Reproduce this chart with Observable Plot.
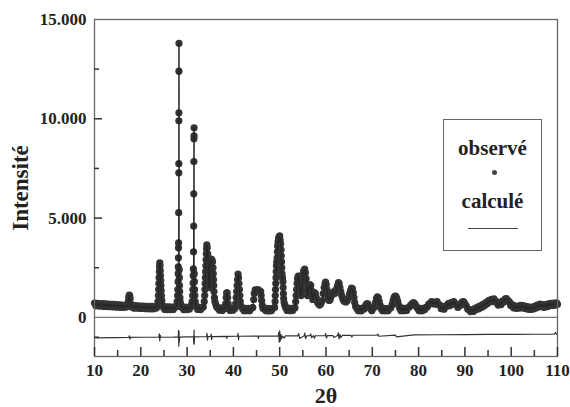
<!DOCTYPE html>
<html><head><meta charset="utf-8">
<script src="https://cdn.jsdelivr.net/npm/d3@7"></script>
<script src="https://cdn.jsdelivr.net/npm/@observablehq/plot@0.6"></script>
<style>
body{margin:0;background:#fff;}
#chart{position:relative;width:570px;height:407px;}
#legend{position:absolute;left:443px;top:119px;width:97px;height:130px;border:1.3px solid #666;background:#fff;font-family:"Liberation Serif",serif;font-weight:bold;font-size:21px;color:#222;}
#legend .lt{position:absolute;left:0;width:97px;text-align:center;line-height:24px;}
#legend .dot{position:absolute;left:48px;top:50px;width:5px;height:5px;border-radius:50%;background:#444;}
#legend .ln{position:absolute;left:24px;top:108px;width:50px;height:0;border-top:1.2px solid #444;}
</style></head><body><div id="chart"></div>
<script>
// 2θ (deg), observed intensity
const observedPoints = [
[10.0,720],[10.3,580],[10.6,710],[10.9,570],[11.2,700],[11.5,560],[11.8,690],[12.1,550],[12.4,680],[12.7,545],[13.0,670],[13.3,535],[13.6,660],[13.9,530],[14.2,650],[14.5,520],[14.8,640],[15.1,515],[15.4,630],[15.7,505],[16.0,620],[16.3,500],[16.6,610],[16.9,520],
[17.2,600],[17.3,800],[17.4,1000],[17.5,1120],[17.6,1100],[17.7,950],[17.8,700],[17.9,540],
[18.2,600],[18.5,470],[18.8,590],[19.1,460],[19.4,580],[19.7,455],[20.0,570],[20.3,450],[20.6,565],[20.9,440],[21.2,560],[21.5,435],[21.8,555],[22.1,430],[22.4,550],[22.7,425],[23.0,545],[23.3,460],
[23.5,540],[23.7,800],[23.8,1100],[23.85,1400],[23.9,1700],[23.95,2000],[24.0,2300],[24.05,2550],[24.1,2740],[24.15,2600],[24.2,2350],[24.25,2100],[24.3,1850],[24.35,1600],[24.4,1350],[24.45,1100],[24.55,850],[24.7,600],[24.9,500],
[25.2,400],[25.5,530],[25.8,395],[26.1,525],[26.4,390],[26.7,520],[27.0,400],[27.3,530],[27.5,520],
[27.7,550],[27.85,800],[27.95,1100],[28.0,1400],[28.05,1800],[28.08,2200],[28.1,2540],[28.12,3000],[28.14,3500],[28.16,3750],[28.18,5270],[28.2,7280],[28.21,7740],[28.22,9900],[28.23,10300],[28.24,12400],[28.25,13800],
[28.3,2400],[28.33,2000],[28.36,1600],[28.4,1300],[28.45,1000],[28.5,800],[28.6,650],[28.75,520],
[29.0,500],[29.3,390],[29.6,520],[29.9,390],[30.2,510],[30.5,420],[30.8,560],
[31.0,650],[31.1,800],[31.2,1100],[31.25,1400],[31.3,1730],[31.33,2100],[31.36,2440],[31.39,3300],[31.42,4600],[31.44,6220],[31.46,7850],[31.48,9000],[31.5,9140],[31.51,9550],
[31.54,2200],[31.58,1800],[31.62,1400],[31.68,1100],[31.75,800],[31.85,600],
[32.0,520],[32.3,400],[32.6,510],[32.9,390],[33.2,480],
[33.5,520],[33.7,800],[33.8,1100],[33.85,1400],[33.9,1700],[33.95,2000],[34.0,2300],[34.05,2600],[34.1,2900],[34.15,3200],[34.2,3450],[34.25,3650],[34.35,3500],[34.45,3200],[34.55,2900],[34.6,2600],[34.65,2300],[34.7,2000],[34.75,1700],[34.8,1500],[34.85,1800],[34.9,2100],[34.95,2400],[35.0,2650],[35.1,2850],[35.2,2940],[35.35,2900],[35.5,2800],[35.6,2500],[35.65,2200],[35.7,1900],[35.75,1600],[35.8,1300],[35.9,1000],[36.0,800],[36.2,650],[36.4,520],[36.7,450],
[37.0,360],[37.3,480],[37.6,350],[37.9,470],
[38.2,450],[38.35,700],[38.45,1000],[38.55,1230],[38.65,1230],[38.75,1000],[38.85,700],[39.0,450],
[39.3,350],[39.6,470],[39.9,360],
[40.3,450],[40.5,700],[40.6,1000],[40.7,1300],[40.8,1600],[40.9,1900],[41.0,2180],[41.1,2000],[41.2,1700],[41.3,1400],[41.4,1100],[41.5,800],[41.7,550],[42.0,440],
[42.3,340],[42.6,460],[42.9,335],[43.2,455],[43.5,330],[43.8,450],
[44.2,500],[44.4,900],[44.5,1200],[44.7,1380],[45.0,1350],[45.3,1400],[45.6,1350],[45.9,1300],[46.0,1100],[46.1,850],[46.25,600],[46.4,450],[46.7,430],
[47.0,330],[47.3,450],[47.6,325],[47.9,445],[48.2,330],[48.5,450],
[48.9,500],[49.0,800],[49.05,1100],[49.1,1400],[49.15,1700],[49.2,2000],[49.25,2300],[49.3,2600],[49.35,2800],[49.45,3000],[49.5,3300],[49.55,3600],[49.65,3800],[49.75,3950],[49.85,4050],[50.0,4100],[50.1,3900],[50.2,3700],[50.3,3400],[50.35,3100],[50.4,2800],[50.45,2500],[50.5,2200],[50.6,2000],[50.7,1800],[50.75,1500],[50.8,1200],[50.85,950],[50.95,750],[51.1,600],[51.3,480],
[51.6,350],[51.9,470],[52.2,340],[52.5,460],[52.8,345],[53.1,470],
[53.3,480],[53.45,800],[53.55,1100],[53.65,1400],[53.75,1700],[53.85,1950],[54.0,2080],[54.15,1900],[54.3,1600],[54.45,1300],[54.6,1100],[54.75,1350],[54.85,1650],[54.95,1950],[55.05,2200],[55.2,2350],[55.4,2430],[55.55,2250],[55.7,1950],[55.8,1650],[55.9,1350],[56.0,1100],[56.15,1300],[56.3,1500],[56.5,1650],[56.7,1600],[56.85,1350],[57.0,1100],[57.15,900],[57.3,1050],[57.5,1250],[57.7,1200],[57.9,1000],[58.1,800],[58.3,700],[58.6,620],[58.9,680],
[59.2,850],[59.4,1200],[59.6,1500],[59.8,1700],[59.9,1780],[60.05,1650],[60.2,1400],[60.35,1100],[60.5,950],[60.7,850],[60.9,900],[61.1,1050],[61.3,1150],[61.5,1250],[61.7,1300],[61.9,1200],[62.1,1250],[62.3,1450],[62.5,1600],[62.7,1750],[62.85,1700],[63.0,1500],[63.2,1300],[63.4,1100],[63.6,950],[63.8,850],[64.0,800],[64.3,780],[64.6,850],[64.9,1000],[65.1,1200],[65.3,1350],[65.5,1480],[65.7,1450],[65.9,1250],[66.05,1000],[66.2,750],[66.4,550],[66.7,430],
[67.0,330],[67.3,460],[67.6,320],[67.9,450],[68.2,420],[68.45,550],[68.7,650],[68.9,690],[69.1,650],[69.35,520],[69.6,430],[69.9,330],[70.2,460],[70.5,520],[70.7,750],[70.9,950],[71.1,1040],[71.3,980],[71.5,800],[71.7,600],[71.9,450],
[72.2,330],[72.5,450],[72.8,320],[73.1,440],[73.4,330],[73.7,460],[74.0,480],[74.3,650],[74.5,850],[74.7,1000],[74.9,1070],[75.1,1060],[75.3,950],[75.5,800],[75.7,600],[75.9,470],
[76.2,340],[76.5,470],[76.8,335],[77.1,460],[77.4,350],[77.7,480],[78.0,520],[78.3,620],[78.6,700],[78.9,740],[79.2,680],[79.5,550],[79.8,450],
[80.1,330],[80.4,460],[80.7,320],[81.0,450],[81.3,380],[81.6,500],[81.9,540],[82.2,670],[82.5,710],[82.8,800],[83.1,680],[83.4,770],[83.7,670],[84.0,790],[84.3,630],[84.6,620],[84.9,440],[85.2,540],[85.5,410],[85.8,570],[86.1,560],[86.4,700],[86.7,580],[87.0,740],[87.3,680],[87.6,800],[87.9,660],[88.2,640],[88.5,500],[88.8,670],[89.1,620],[89.4,770],[89.7,790],[90.0,700],[90.3,580],[90.6,420],[90.9,390],[91.2,290],[91.5,380],[91.8,300],[92.1,440],[92.4,380],[92.7,520],[93.0,430],[93.3,580],[93.6,500],[93.9,660],[94.2,580],[94.5,740],[94.8,680],[95.1,850],[95.4,780],[95.7,910],[96.0,820],[96.3,930],[96.6,780],[96.9,780],[97.2,620],[97.5,720],[97.8,640],[98.1,820],[98.4,780],[98.7,930],[99.0,940],[99.3,840],[99.6,790],[99.9,600],[100.2,640],[100.5,480],[100.8,580],[101.1,450],[101.4,560],[101.7,460],[102.0,600],[102.3,490],[102.6,590],[102.9,450],[103.2,560],[103.5,420],[103.8,530],[104.1,400],[104.4,510],[104.7,420],[105.0,560],[105.3,470],[105.6,620],[105.9,520],[106.2,670],[106.5,540],[106.8,640],[107.1,500],[107.4,630],[107.7,540],[108.0,680],[108.3,580],[108.6,710],[108.9,600],[109.2,720],[109.5,620],[109.8,730],[110.0,660]
];
// 2θ (deg), observed − calculated, offset below zero
const differencePoints = [
[10,-1030],[14,-1020],[17.4,-1010],[17.55,-930],[17.65,-1090],[17.8,-1005],[20,-1000],[23.9,-990],[24.0,-830],[24.1,-1180],[24.2,-900],[24.3,-1000],[27,-990],[28.1,-980],[28.15,-650],[28.2,-1450],[28.25,-700],[28.3,-1250],[28.4,-990],[30,-980],[31.4,-980],[31.45,-1350],[31.5,-640],[31.55,-1320],[31.6,-980],[33,-975],[34.2,-970],[34.3,-800],[34.4,-1150],[34.5,-970],[35.1,-960],[35.2,-840],[35.3,-1120],[35.4,-965],[38.5,-960],[38.6,-1060],[38.7,-955],[40.9,-950],[41.0,-800],[41.1,-1130],[41.2,-950],[45.3,-945],[45.4,-1060],[45.5,-945],[49.7,-940],[49.8,-760],[49.9,-1250],[50.0,-680],[50.1,-1200],[50.25,-860],[50.4,-1080],[50.6,-940],[51.0,-1040],[51.2,-935],[53.9,-935],[54.1,-820],[54.3,-1060],[55.3,-930],[55.4,-790],[55.6,-1070],[55.8,-930],[56.5,-925],[56.7,-840],[56.9,-1020],[57.3,-920],[57.5,-1050],[57.7,-925],[59.8,-920],[59.9,-820],[60.1,-1040],[60.3,-920],[61.5,-915],[61.7,-1010],[62.5,-910],[62.65,-780],[62.8,-1080],[63.0,-860],[63.2,-1020],[63.5,-910],[65.4,-905],[65.6,-990],[65.8,-900],[71.0,-895],[71.2,-840],[71.4,-950],[75.0,-890],[75.2,-980],[79,-880],[84,-875],[90,-870],[95,-860],[98,-860],[101,-855],[105,-850],[109.3,-840],[109.6,-760],[109.8,-860],[110,-840]
];
const xMajorTicks = [10,20,30,40,50,60,70,80,90,100,110];
const xMinorTicks = [15,25,35,45,55,65,75,85,95,105];
const yLabelTicks = [0,5000,10000,15000];
const yLabelTexts = ["0","5.000","10.000","15.000"];
const yMajorTicks = [5000,10000];
const yMinorTicks = [-1000,2500,7500,12500];
const xTitle = "2θ";
const yTitle = "Intensité";
const legendLabels = ["observé","calculé"];

const W = 570, H = 407, mL = 94, mR = 13, mT = 19, mB = 51;
const frameW = W - mL - mR, frameH = H - mT - mB;
const xDomain = [10, 110], yDomain = [-1970, 15000];
const obs = observedPoints.map(([t, v]) => ({t, v}));
const diff = differencePoints.map(([t, v]) => ({t, v}));

// inward ticks: length given in pixels, converted to data units of each scale
const pxY = (yDomain[1] - yDomain[0]) / frameH;
const pxX = (xDomain[1] - xDomain[0]) / frameW;
const tickX = (ticks, len) => Plot.ruleX(ticks, {x: d => d, y1: yDomain[0], y2: yDomain[0] + len * pxY, stroke: "#333", strokeWidth: 1.5});
const tickY = (ticks, len) => Plot.ruleY(ticks, {y: d => d, x1: xDomain[0], x2: xDomain[0] + len * pxX, stroke: "#333", strokeWidth: 1.5});

const chart = Plot.plot({
  width: W, height: H,
  marginLeft: mL, marginRight: mR, marginTop: mT, marginBottom: mB,
  style: {fontFamily: "'Liberation Serif', serif", fontWeight: "bold", fontSize: "17px", color: "#222", background: "#fff"},
  x: {domain: xDomain},
  y: {domain: yDomain},
  marks: [
    Plot.ruleY([0], {stroke: "#777", strokeWidth: 1.3}),
    Plot.line(diff, {x: "t", y: "v", stroke: "#333", strokeWidth: 1.2}),
    Plot.dot(obs, {x: "t", y: "v", r: 3.6, fill: "#333", stroke: "none"}),
    Plot.line(obs, {x: "t", y: "v", stroke: "#222", strokeWidth: 1}),
    Plot.frame({stroke: "#666", strokeWidth: 1.3}),
    tickX(xMajorTicks, 9),
    tickX(xMinorTicks, 6),
    tickY(yMajorTicks, 8),
    tickY(yMinorTicks, 5),
    Plot.axisX(xMajorTicks, {anchor: "bottom", tickSize: 0, tickPadding: 7, fontSize: 17, fill: "#222", label: null}),
    Plot.axisY(yLabelTicks, {anchor: "left", tickSize: 0, tickPadding: 8, fontSize: 17, fill: "#222", label: null,
      tickFormat: d => yLabelTexts[yLabelTicks.indexOf(d)]}),
    Plot.text([xTitle], {frameAnchor: "bottom", dy: 39, fontSize: 22, fill: "#222", lineAnchor: "middle"}),
    Plot.text([yTitle], {frameAnchor: "left", dx: -74, rotate: -90, fontSize: 23, fill: "#222", textAnchor: "middle", lineAnchor: "middle"})
  ]
});
const host = document.getElementById("chart");
host.appendChild(chart);
const lg = document.createElement("div");
lg.id = "legend";
lg.innerHTML = `<div class="lt" style="top:16px">${legendLabels[0]}</div><div class="dot"></div><div class="lt" style="top:69px">${legendLabels[1]}</div><div class="ln"></div>`;
host.appendChild(lg);
</script></body></html>
